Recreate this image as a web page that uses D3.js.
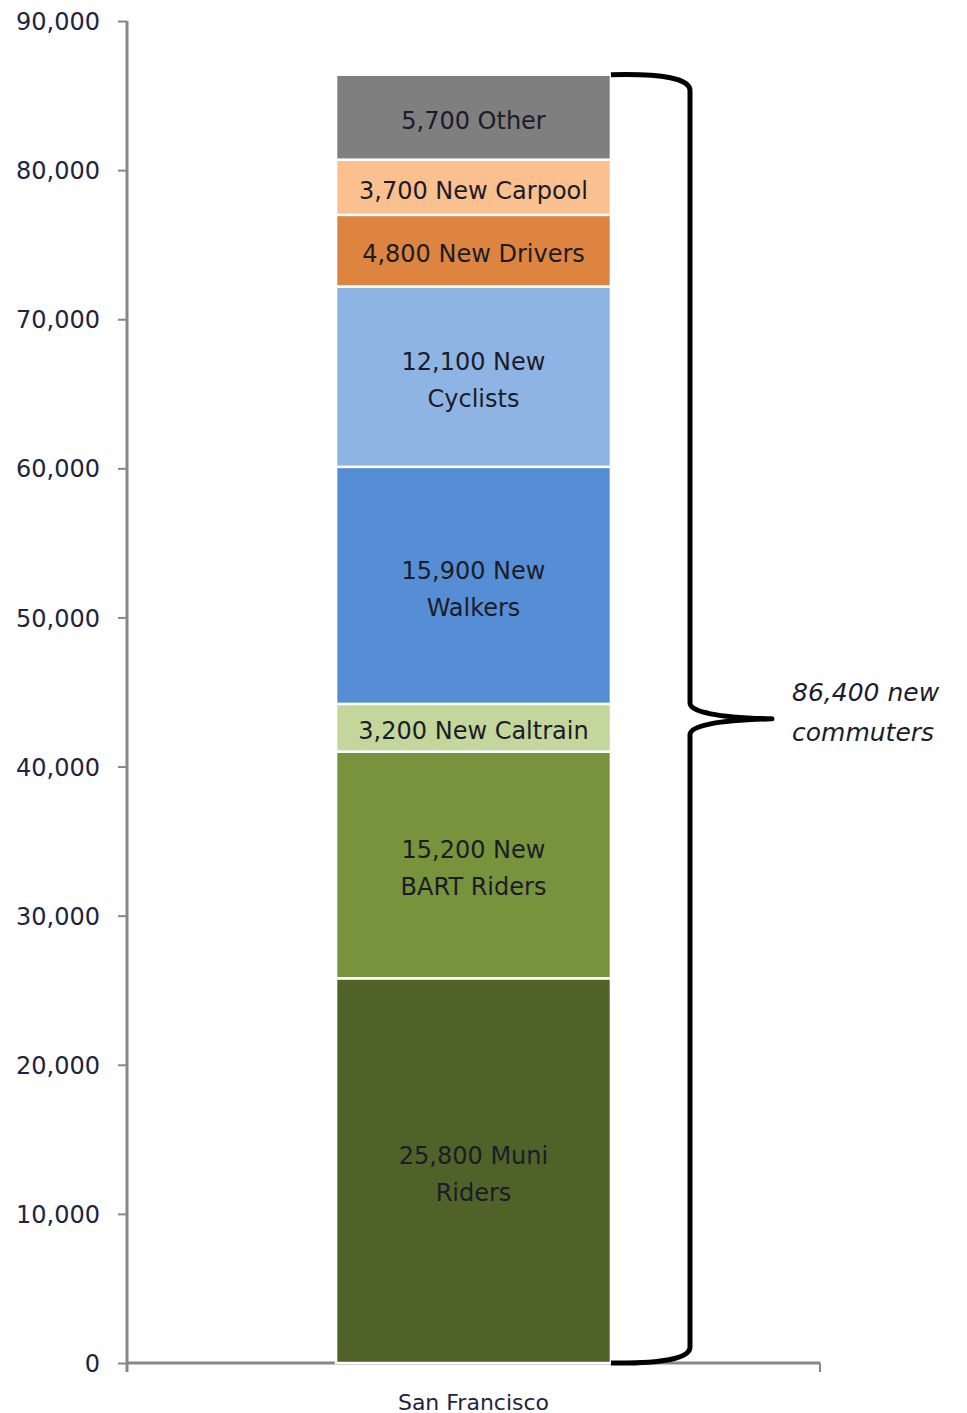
<!DOCTYPE html>
<html>
<head>
<meta charset="utf-8">
<script src="https://cdn.jsdelivr.net/npm/d3@7"></script>
<style>
body { margin: 0; background: #fff; }
svg text { font-family: "DejaVu Sans", sans-serif; }
</style>
</head>
<body>
<svg></svg>
<script>
// data, bottom to top
var categories = ["San Francisco"];
var modes = ["Muni", "BART", "Caltrain", "Walkers", "Cyclists", "Drivers", "Carpool", "Other"];
var values = [25800, 15200, 3200, 15900, 12100, 4800, 3700, 5700];
var labels = [
	["25,800 Muni", "Riders"],
	["15,200 New", "BART Riders"],
	["3,200 New Caltrain"],
	["15,900 New", "Walkers"],
	["12,100 New", "Cyclists"],
	["4,800 New Drivers"],
	["3,700 New Carpool"],
	["5,700 Other"]
];
var colors = ["#4f6228", "#77933c", "#c3d69b", "#558ed5", "#8eb4e3", "#dc8440", "#fac090", "#7f7f7f"];
var yTicks = [0, 10000, 20000, 30000, 40000, 50000, 60000, 70000, 80000, 90000];
var totalLabel = ["86,400 new", "commuters"];

var width = 967;
var height = 1413;
var plotLeft = 127;
var plotRight = 820;
var plotTop = 21;
var plotBottom = 1363;

var svg = d3.select("svg").attr("width", width).attr("height", height);

var y = d3.scaleLinear().domain([0, 90000]).range([plotBottom, plotTop]);
var x = d3.scaleBand().domain(categories).range([plotLeft, plotRight]).padding(0.432);

// stack
var segs = [];
var acc = 0;
values.forEach(function(v, i){
	segs.push({mode: modes[i], y0: acc, y1: acc + v, label: labels[i], color: colors[i]});
	acc += v;
});
var total = acc;

// y axis
var yAxis = svg.append("g")
	.attr("transform", "translate(" + plotLeft + ",0)")
	.call(d3.axisLeft(y).tickValues(yTicks).tickSize(9).tickPadding(18).tickFormat(d3.format(",")));
yAxis.select(".domain").attr("stroke", "#878787").attr("stroke-width", 3)
	.attr("d", "M0," + y(90000) + "V" + (plotBottom + 9));
yAxis.selectAll(".tick line").attr("stroke", "#878787").attr("stroke-width", 2);
yAxis.selectAll(".tick text").attr("fill", "#1f2440").style("font-size", "24px")
	.attr("dy", "0.36em");

// x axis
svg.append("line")
	.attr("x1", plotLeft).attr("x2", plotRight)
	.attr("y1", plotBottom).attr("y2", plotBottom)
	.attr("stroke", "#878787").attr("stroke-width", 3);
svg.append("line")
	.attr("x1", plotRight).attr("x2", plotRight)
	.attr("y1", plotBottom).attr("y2", plotBottom + 9)
	.attr("stroke", "#878787").attr("stroke-width", 2);
svg.append("text")
	.attr("x", x("San Francisco") + x.bandwidth() / 2)
	.attr("y", 1410)
	.attr("text-anchor", "middle")
	.attr("fill", "#1f2440")
	.style("font-size", "22px")
	.text(categories[0]);

// bars
svg.selectAll("rect.seg")
	.data(segs)
	.enter()
	.append("rect").classed("seg", true)
	.attr("x", x("San Francisco"))
	.attr("width", x.bandwidth())
	.attr("y", d => y(d.y1))
	.attr("height", d => y(d.y0) - y(d.y1))
	.attr("fill", d => d.color)
	.attr("stroke", "#fff")
	.attr("stroke-width", 2.5);

var cx = x("San Francisco") + x.bandwidth() / 2;
var lineH = 37;
svg.selectAll("text.seg")
	.data(segs)
	.enter()
	.append("text").classed("seg", true)
	.attr("x", cx)
	.attr("y", d => (y(d.y0) + y(d.y1)) / 2 - (d.label.length - 1) * lineH / 2 + 3)
	.attr("text-anchor", "middle")
	.attr("fill", "#1c1c28")
	.style("font-size", "24px")
	.each(function(d){
		var t = d3.select(this);
		d.label.forEach(function(s, i){
			t.append("tspan").attr("x", cx).attr("dy", i ? lineH : "0.36em").text(s);
		});
	});

// brace
var bx0 = x("San Francisco") + x.bandwidth();
var bx1 = 690;
var tip = 772;
var bt = y(total);
var bb = y(0);
var bm = y(total / 2);
var brace = "M" + bx0 + "," + bt +
	" Q" + bx1 + "," + (bt - 2) + " " + bx1 + "," + (bt + 16) +
	" L" + bx1 + "," + (bm - 16) +
	" Q" + bx1 + "," + (bm - 2) + " " + tip + "," + bm +
	" Q" + bx1 + "," + (bm + 2) + " " + bx1 + "," + (bm + 16) +
	" L" + bx1 + "," + (bb - 16) +
	" Q" + bx1 + "," + (bb + 1) + " " + bx0 + "," + bb;
svg.append("path")
	.attr("d", brace)
	.attr("fill", "none")
	.attr("stroke", "#000")
	.attr("stroke-width", 5)
	.attr("stroke-linejoin", "round");

svg.append("text")
	.attr("x", 792)
	.attr("y", bm - 27)
	.attr("fill", "#1c1c30")
	.style("font-size", "25px")
	.style("font-style", "italic")
	.selectAll("tspan")
	.data(totalLabel)
	.enter()
	.append("tspan")
	.attr("x", 792)
	.attr("dy", (d, i) => i ? 40 : "0.36em")
	.text(d => d);
</script>
</body>
</html>
